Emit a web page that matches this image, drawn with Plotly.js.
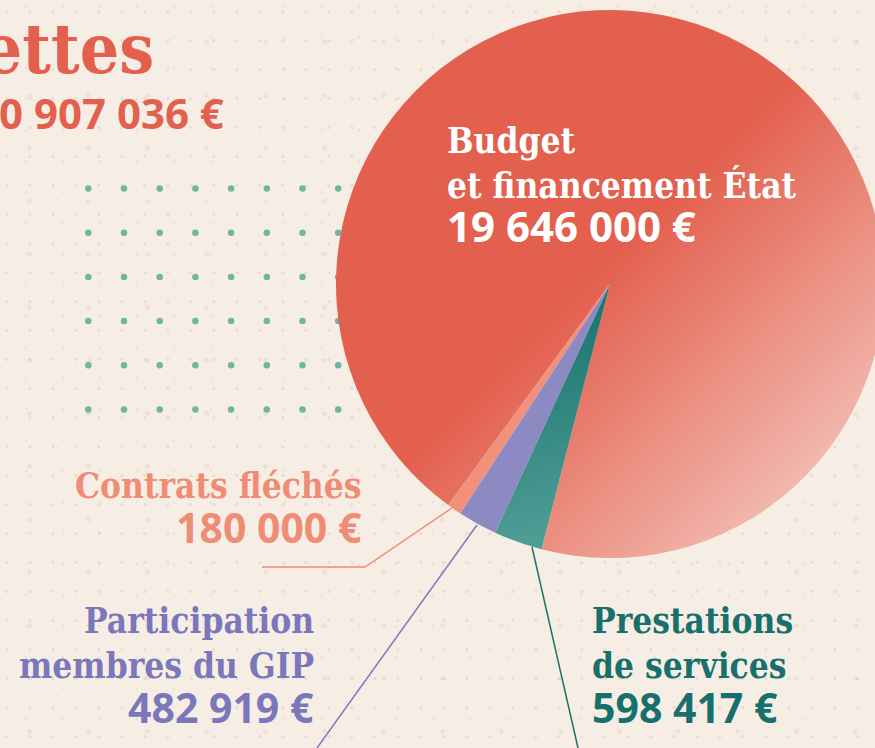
<!DOCTYPE html>
<html><head><meta charset="utf-8">
<script src="https://cdn.plot.ly/plotly-3.0.1.min.js"></script>
<style>
html,body{margin:0;padding:0;overflow:hidden;width:875px;height:748px;
background-color:#f6eee5;
background-image:
 radial-gradient(circle at 30% 40%, rgba(214,190,170,0.35) 1.3px, transparent 2px),
 radial-gradient(circle at 70% 20%, rgba(214,190,170,0.30) 1px, transparent 1.6px),
 radial-gradient(circle at 50% 80%, rgba(214,190,170,0.28) 2px, transparent 2.8px);
background-size:23px 29px, 37px 31px, 59px 53px;}
</style>
</head><body><div id="chart"></div>
<script>
// ---- data ----
const categories = ["Budget et financement État", "Contrats fléchés", "Participation membres du GIP", "Prestations de services"];
const values = [19646000, 180000, 482919, 598417];
const labelLines = [["Budget", "et financement État"], ["Contrats fléchés"], ["Participation", "membres du GIP"], ["Prestations", "de services"]];
const titleText = "Recettes";
const totalText = "20 907 036 €";

// ---- style ----
const W = 890, H = 748;
const SERIF = "DejaVu Serif Condensed, DejaVu Serif, serif";
const SANS = "Open Sans, Montserrat, sans-serif";
const sliceColors = ["#e3604e", "#f1917b", "#8d89c2", "#2a7f7b"];
const textColors = ["#ffffff", "#ef8c74", "#7b77bb", "#17706b"];
const red = "#e3604e";

function fmt(v) { return String(v).replace(/\B(?=(\d{3})+(?!\d))/g, " ") + " €"; }

function ann(text, x, baseline, size, fam, color, xanchor, boxH) {
  const off = fam === SERIF ? 0.346 : 0.388;
  const pad = xanchor === 'left' ? -3 : (xanchor === 'right' ? 3 : 0);
  const a = {xref: 'x', yref: 'y', x: x + pad, y: baseline - off * size, text: text, showarrow: false,
    xanchor: xanchor, yanchor: 'middle', borderpad: 0, font: {family: fam, size: size, color: color, weight: 700}};
  if (boxH) a.height = boxH;
  return a;
}

// label placement: [x, xanchor, first baseline]
const labelPos = [[449, 'left', 153], [360, 'right', 498], [312, 'right', 633], [594, 'left', 633]];
const numSize = [42, 41, 41, 41];
const LS = 44.5;
const annotations = [];
annotations.push(ann(titleText, 152, 72, 69, SERIF, red, 'right'));
annotations.push(ann(totalText, 222, 128, 42, SANS, red, 'right', 38));
labelLines.forEach((lines, i) => {
  const [x, xa, b0] = labelPos[i];
  lines.forEach((t, j) => annotations.push(ann(t, x, b0 + j * LS, 35, SERIF, textColors[i], xa, 43)));
  annotations.push(ann(fmt(values[i]), x, b0 + lines.length * LS, numSize[i], SANS, textColors[i], xa, 37));
});

// decorative dot grid
const gridCols = 8, gridRows = 6, gx0 = 88.3, gdx = 35.7, gy0 = 188.5, gdy = 44.2;
const dotX = [], dotY = [];
for (let r = 0; r < gridRows; r++) for (let c = 0; c < gridCols; c++) { dotX.push(gx0 + c * gdx); dotY.push(gy0 + r * gdy); }

// leader lines [x list, y list, color]
const leaders = [
  [[452, 365, 262], [508, 567, 567], "#ef8c74"],
  [[477, 317], [525, 748], "#7f7bbd"],
  [[532, 578], [547, 748], "#1d746e"]
];

const traces = [
  {type: 'scatter', mode: 'markers', x: dotX, y: dotY, marker: {size: 6.5, color: '#70b4a2'}, hoverinfo: 'skip'}
];
leaders.forEach(l => traces.push({type: 'scatter', mode: 'lines', x: l[0], y: l[1], line: {color: l[2], width: 1.5}, hoverinfo: 'skip'}));
traces.push({
  type: 'pie', values: values, labels: categories, sort: false, direction: 'counterclockwise', rotation: 216.2,
  textinfo: 'none', hoverinfo: 'label+value', marker: {colors: sliceColors, line: {width: 0}},
  domain: {x: [336 / W, 884 / W], y: [1 - 558 / H, 1 - 10 / H]}
});

const layout = {
  width: W, height: H, margin: {l: 0, r: 0, t: 0, b: 0},
  paper_bgcolor: 'rgba(0,0,0,0)', plot_bgcolor: 'rgba(0,0,0,0)', showlegend: false,
  xaxis: {range: [0, W], visible: false, fixedrange: true},
  yaxis: {range: [H, 0], visible: false, fixedrange: true},
  annotations: annotations
};

Plotly.newPlot('chart', traces, layout, {displayModeBar: false, staticPlot: true}).then(() => {
  const svg = document.querySelector('.main-svg');
  let defs = svg.querySelector('defs');
  const NS = 'http://www.w3.org/2000/svg';
  function grad(id, x1, y1, x2, y2, stops) {
    const g = document.createElementNS(NS, 'linearGradient');
    g.setAttribute('id', id);
    g.setAttribute('x1', x1); g.setAttribute('y1', y1); g.setAttribute('x2', x2); g.setAttribute('y2', y2);
    stops.forEach(s => { const st = document.createElementNS(NS, 'stop'); st.setAttribute('offset', s[0]); st.setAttribute('stop-color', s[1]); g.appendChild(st); });
    defs.appendChild(g);
  }
  grad('gBudget', 0.48, 0.48, 0.92, 0.92, [[0, '#e3604e'], [1, '#f4c7bf']]);
  grad('gTeal', 0.5, 0, 0.6, 1, [[0, '#16706b'], [1, '#52a098']]);
  const paths = document.querySelectorAll('.pielayer .slice path.surface');
  if (paths[0]) paths[0].style.fill = 'url(#gBudget)';
  if (paths[3]) paths[3].style.fill = 'url(#gTeal)';
});
</script>
</body></html>
